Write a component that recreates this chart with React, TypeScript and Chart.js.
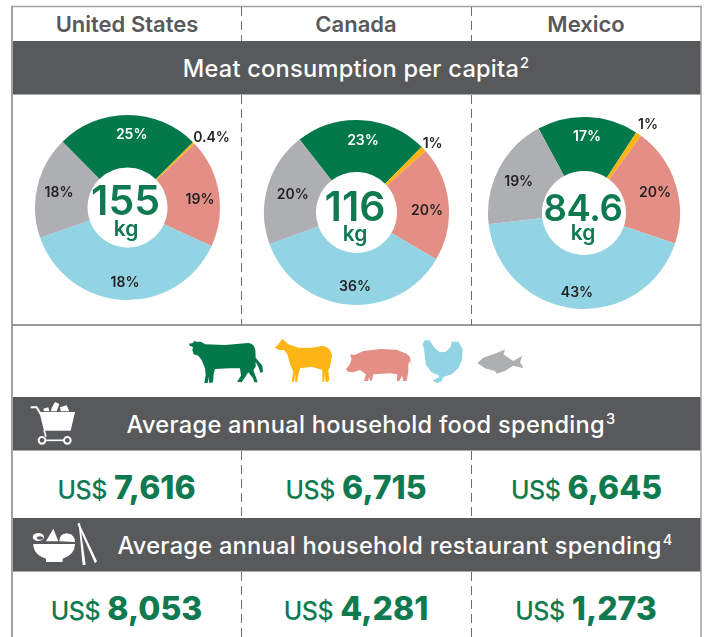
import React, { useEffect, useRef } from "react";
import { Chart, registerables } from "chart.js";

Chart.register(...registerables);

const categories = ["Beef", "Lamb and goat", "Pork", "Poultry", "Fish"];
const countries = ["United States", "Canada", "Mexico"];
const usShares = [25, 0.4, 19, 38, 18];
const canadaShares = [23, 1, 20, 36, 20];
const mexicoShares = [17, 1, 20, 43, 19];
const usLabels = ["25%", "0.4%", "19%", "18%", "18%"];
const canadaLabels = ["23%", "1%", "20%", "36%", "20%"];
const mexicoLabels = ["17%", "1%", "20%", "43%", "19%"];
const totals = ["155", "116", "84.6"];
const foodSpending = ["7,616", "6,715", "6,645"];
const restaurantSpending = ["8,053", "4,281", "1,273"];
const sliceColors = ["#03784b", "#fdb515", "#e38f85", "#92d4e3", "#aeafb3"];

const FONT = "Inter, sans-serif";
const GREEN = "#0f7a50";
const DARK = "#231f20";
const BAND = "#58595b";

const PAD = 2;

function Donut(props: { data: number[]; cx: number; cy: number; r: number; hole: number; rotation: number }) {
  const ref = useRef<HTMLCanvasElement>(null);
  const { data, cx, cy, r, hole, rotation } = props;
  useEffect(() => {
    const chart = new Chart(ref.current!, {
      type: "doughnut",
      data: {
        labels: categories,
        datasets: [{ data, backgroundColor: sliceColors, borderWidth: 0, hoverOffset: 0 }],
      },
      options: {
        responsive: false,
        animation: false,
        rotation,
        cutout: hole,
        layout: { padding: PAD },
        plugins: { legend: { display: false }, tooltip: { enabled: false } },
      },
    });
    return () => chart.destroy();
  }, []);
  const size = Math.round(2 * r + 2 * PAD);
  return (
    <canvas
      ref={ref}
      width={size}
      height={size}
      style={{ position: "absolute", left: cx - size / 2, top: cy - size / 2, width: size, height: size }}
    />
  );
}

function T(props: {
  x: number;
  y: number;
  size: number;
  weight?: number;
  color?: string;
  children: React.ReactNode;
  spacing?: number;
}) {
  const { x, y, size, weight = 600, color = DARK, children, spacing = 0 } = props;
  return (
    <span
      style={{
        position: "absolute",
        left: x,
        top: y,
        transform: "translate(-50%,-50%)",
        fontFamily: FONT,
        fontSize: size,
        fontWeight: weight,
        color,
        lineHeight: 1,
        whiteSpace: "nowrap",
        letterSpacing: spacing,
      }}
    >
      {children}
    </span>
  );
}

function Band(props: { top: number; height: number }) {
  return (
    <div
      style={{
        position: "absolute",
        left: 12,
        top: props.top,
        width: 689,
        height: props.height,
        background: BAND,
        borderBottom: "1px solid #a7a8aa",
        boxSizing: "border-box",
      }}
    />
  );
}

function Sup({ children }: { children: React.ReactNode }) {
  return (
    <span style={{ fontSize: "0.62em", position: "relative", top: "-0.6em", marginLeft: 1 }}>{children}</span>
  );
}

function Money(props: { x: number; y: number; amount: string }) {
  return (
    <span
      style={{
        position: "absolute",
        left: props.x,
        top: props.y,
        transform: "translate(-50%,-50%)",
        fontFamily: FONT,
        color: GREEN,
        whiteSpace: "nowrap",
        lineHeight: 1,
      }}
    >
      <span style={{ fontSize: 25, fontWeight: 500, letterSpacing: -0.4 }}>US$</span>
      <span style={{ fontSize: 32, fontWeight: 800, marginLeft: 7 }}>{props.amount}</span>
    </span>
  );
}

export default function App() {
  useEffect(() => {
    document.body.style.margin = "0";
  }, []);
  return (
    <div style={{ position: "relative", width: 705, height: 637, background: "#fff", overflow: "hidden" }}>
      <Band top={41} height={54} />
      <Band top={397} height={54} />
      <Band top={518} height={54} />

      <svg width={705} height={637} style={{ position: "absolute", left: 0, top: 0 }}>
        {/* frame */}
        <line x1={12} y1={6} x2={12} y2={637} stroke="#a0a1a3" strokeWidth={2} />
        <line x1={11} y1={6.5} x2={702} y2={6.5} stroke="#a0a1a3" strokeWidth={1.5} />
        <line x1={701} y1={6} x2={701} y2={637} stroke="#a0a1a3" strokeWidth={1.5} />
        <line x1={12} y1={325} x2={701} y2={325} stroke="#77787b" strokeWidth={1.5} />
        {/* dashed column separators */}
        {[241.5, 471.5].map((x) => (
          <g key={x} stroke="#6d6e71" strokeWidth={1} strokeDasharray="9 5">
            <line x1={x} y1={7} x2={x} y2={41} />
            <line x1={x} y1={95} x2={x} y2={325} />
            <line x1={x} y1={451} x2={x} y2={518} />
            <line x1={x} y1={572} x2={x} y2={637} />
          </g>
        ))}
        {/* animal icons */}
        <g transform="translate(185,335) scale(0.3333)">
          <path
            fill={sliceColors[0]}
            d="M12 26 L24 24 L28 17 L34 20 L48 20 L60 28 L120 30 L190 24 Q208 26 211 45 L212 68 L222 80 L232 92 L234 110 L226 114 L222 100 L212 80 L212 95 L205 105 L214 130 L218 142 L208 142 L204 130 L190 112 L178 130 L170 142 L156 140 L168 122 L165 100 L135 100 L90 102 L86 118 L84 142 L72 144 L72 125 L68 144 L58 144 L62 120 L60 100 L50 75 L40 62 L26 58 L22 45 L24 36 L14 32 Z"
          />
          <path
            fill={sliceColors[1]}
            d="M270 38 L285 22 L290 12 L297 16 L310 28 L340 38 L380 38 L415 32 Q438 38 441 62 L435 95 L430 105 L433 135 L428 141 L422 140 L419 115 L418 140 L412 140 L412 105 L380 95 L345 100 L340 120 L337 140 L330 142 L332 118 L326 142 L320 140 L325 110 L316 90 L308 60 L298 46 L280 44 Z"
          />
        </g>
        <g transform="translate(340,335) scale(0.3333)">
          <path
            fill={sliceColors[2]}
            d="M18 102 L28 90 L35 72 L30 58 L44 60 L70 48 L120 42 L170 44 L200 56 L210 66 L213 92 L210 78 L205 88 L205 110 L200 138 L190 138 L186 122 L178 138 L170 138 L172 118 L150 115 L100 118 L96 136 L90 138 L88 125 L84 138 L72 138 L78 118 L60 105 L40 112 L24 110 Z"
          />
          <path
            fill={sliceColors[3]}
            d="M248 28 L254 16 L268 16 L285 40 L300 52 L318 50 L332 35 L335 20 L355 20 L368 42 L366 75 L355 100 L335 118 L312 125 L308 130 L305 140 L290 144 L278 135 L295 128 L298 122 L275 112 L258 90 L254 60 L252 42 Z"
          />
          <path
            fill={sliceColors[4]}
            d="M412 84 L430 68 L470 54 L496 43 L490 58 L520 78 L547 62 L540 82 L551 100 L520 92 L495 108 L470 116 L465 108 L435 100 Z"
          />
        </g>
        {/* cart icon */}
        <g transform="translate(20,398) scale(0.3333)" fill="#fff">
          <path d="M58 42 L165 42 L152 98 L72 98 Z" />
          <path d="M32 28 L50 28 L62 48" fill="none" stroke="#fff" strokeWidth={6} />
          <path d="M72 96 L78 116" fill="none" stroke="#fff" strokeWidth={5} />
          <circle cx={66} cy={127} r={10} fill="none" stroke="#fff" strokeWidth={6} />
          <circle cx={142} cy={127} r={10} fill="none" stroke="#fff" strokeWidth={6} />
          <path d="M76 127 L132 127" fill="none" stroke="#fff" strokeWidth={5} />
          <path d="M70 32 L85 28 L88 40 L72 40 Z M95 30 L105 12 L118 18 L110 40 L92 40 Z M120 28 L140 22 L148 40 L122 40 Z" />
        </g>
        {/* bowl icon */}
        <g transform="translate(20,518) scale(0.3333)" fill="#fff">
          <path d="M40 78 L165 78 Q165 110 128 122 L128 132 L78 132 L78 122 Q40 110 40 78 Z" />
          <ellipse cx={55} cy={57} rx={17} ry={12} />
          <ellipse cx={60} cy={60} rx={9} ry={5} fill={BAND} />
          <path d="M78 70 L100 32 L115 70 Z" />
          <path d="M118 70 Q118 48 140 46 Q165 50 165 72 Z" />
          <path d="M172 18 L177 15 L231 130 L225 136 Z" />
          <path d="M176 16 L180 16 L197 140 L188 142 Z" />
        </g>
      </svg>

      <Donut data={usShares} cx={127.5} cy={207} r={92.5} hole={40} rotation={-44.6} />
      <Donut data={canadaShares} cx={356.5} cy={212} r={92.5} hole={40.5} rotation={-38} />
      <Donut data={mexicoShares} cx={584} cy={213} r={96} hole={42} rotation={-28.3} />

      <T x={127} y={24} size={22} color={BAND}>{countries[0]}</T>
      <T x={356} y={24} size={22} color={BAND}>{countries[1]}</T>
      <T x={586} y={24} size={22} color={BAND}>{countries[2]}</T>

      <T x={356} y={69} size={23.6} weight={500} spacing={0.25} color="#fff">Meat consumption per capita<Sup>2</Sup></T>
      <T x={371} y={425} size={23.6} weight={500} spacing={0.28} color="#fff">Average annual household food spending<Sup>3</Sup></T>
      <T x={395} y={546} size={23.6} weight={500} spacing={0.28} color="#fff">Average annual household restaurant spending<Sup>4</Sup></T>

      {/* US labels */}
      <T x={131.7} y={134} size={14} color="#fff">{usLabels[0]}</T>
      <T x={211.5} y={136.5} size={14}>{usLabels[1]}</T>
      <T x={200} y={198.5} size={14}>{usLabels[2]}</T>
      <T x={125} y={281.5} size={14}>{usLabels[3]}</T>
      <T x={59} y={191.5} size={14}>{usLabels[4]}</T>
      <T x={125.5} y={200} size={41} color={GREEN}>{totals[0]}</T>
      <T x={126} y={227.5} size={21} color={GREEN}>kg</T>

      {/* Canada labels */}
      <T x={363} y={139.5} size={14} color="#fff">{canadaLabels[0]}</T>
      <T x={432.7} y={143} size={14}>{canadaLabels[1]}</T>
      <T x={427} y={209.5} size={14}>{canadaLabels[2]}</T>
      <T x={355} y={285.5} size={14}>{canadaLabels[3]}</T>
      <T x={292.7} y={193.5} size={14}>{canadaLabels[4]}</T>
      <T x={355} y={206} size={41} color={GREEN}>{totals[1]}</T>
      <T x={355} y={232.5} size={21} color={GREEN}>kg</T>

      {/* Mexico labels */}
      <T x={587} y={136} size={14} color="#fff">{mexicoLabels[0]}</T>
      <T x={648} y={123.5} size={14}>{mexicoLabels[1]}</T>
      <T x={655} y={192} size={14}>{mexicoLabels[2]}</T>
      <T x={577} y={292} size={14}>{mexicoLabels[3]}</T>
      <T x={518.7} y={181} size={14}>{mexicoLabels[4]}</T>
      <T x={583} y={208} size={36.5} color={GREEN} spacing={-0.4}>{totals[2]}</T>
      <T x={583} y={231.5} size={21} color={GREEN}>kg</T>

      <Money x={126.5} y={487.5} amount={foodSpending[0]} />
      <Money x={356} y={487.5} amount={foodSpending[1]} />
      <Money x={586.5} y={487.5} amount={foodSpending[2]} />
      <Money x={126.5} y={608.5} amount={restaurantSpending[0]} />
      <Money x={356} y={608.5} amount={restaurantSpending[1]} />
      <Money x={586} y={608.5} amount={restaurantSpending[2]} />
    </div>
  );
}
